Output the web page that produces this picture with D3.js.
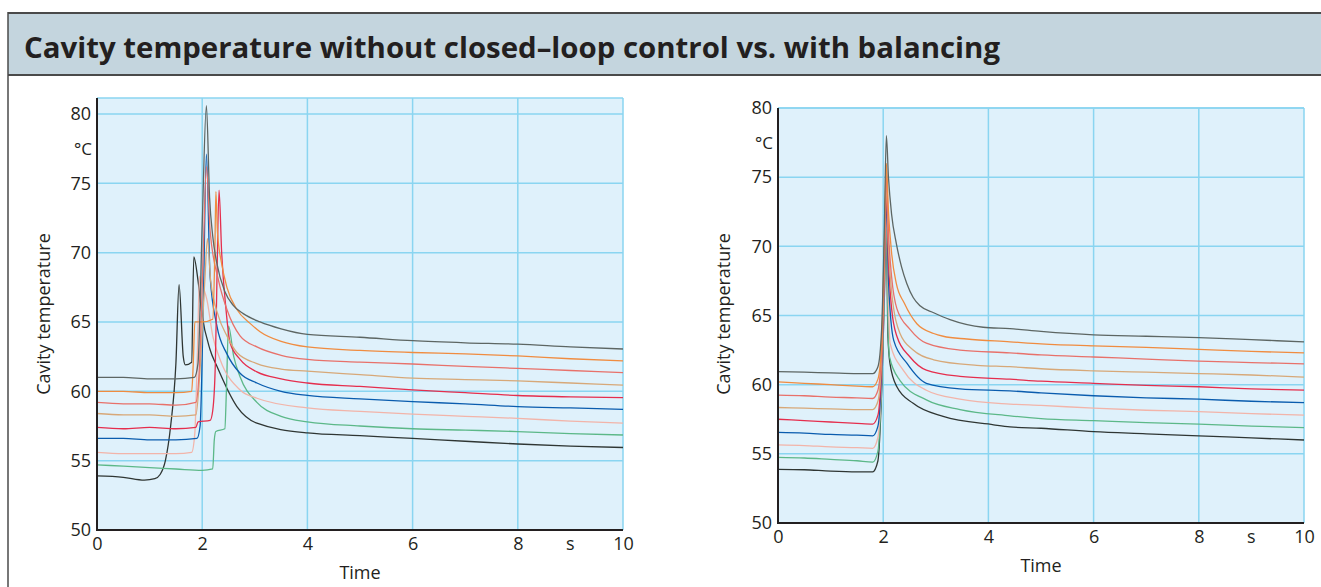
<!DOCTYPE html>
<html>
<head>
<meta charset="utf-8">
<script src="https://cdn.jsdelivr.net/npm/d3@7"></script>
<style>
  body { margin: 0; background: #fff; }
  svg text { font-family: "Open Sans", "Noto Sans", sans-serif; fill: #231f20; }
</style>
</head>
<body>
<svg id="chart" width="1321" height="587"></svg>
<script>
// Data: [time s, temperature °C]
var titleText = "Cavity temperature without closed\u2013loop control vs. with balancing";
var seriesColors = ["#2f3633", "#5cb888", "#f2b4a9", "#0a5cae", "#e52e4d", "#d7a878", "#e8716a", "#f08c40", "#5d6663"];
var xTicks = [0, 2, 4, 6, 8, 10];
var yTicks = [50, 55, 60, 65, 70, 75, 80];

// without closed-loop control
var leftBlack = [[0,53.9],[0.5,53.8],[0.9,53.6],[1.1,53.7],[1.2,54.0],[1.3,55.0],[1.4,57.5],[1.5,62],[1.56,67.7],[1.64,62.5],[1.68,61.9],[1.8,62.1],[1.84,69.7],[1.92,68],[1.99,65.7],[2.15,63.0],[2.28,61.8],[2.66,58.9],[3.04,57.7],[4,57.0],[5,56.8],[6,56.6],[7,56.4],[8,56.2],[9,56.05],[10,55.95]];
var leftGreen = [[0,54.7],[0.5,54.6],[1,54.5],[1.5,54.4],[2.0,54.3],[2.2,54.4],[2.23,56.5],[2.26,57.1],[2.43,57.3],[2.46,60],[2.5,64.7],[2.6,62.5],[2.72,61.05],[3.04,59.2],[3.5,58.2],[4,57.8],[5,57.5],[6,57.3],[7,57.2],[8,57.1],[9,56.95],[10,56.85]];
var leftPink = [[0,55.6],[0.5,55.5],[1,55.5],[1.5,55.5],[1.8,55.6],[1.86,57],[1.91,63],[1.95,68.3],[2.02,67.5],[2.09,66.6],[2.2,64],[2.34,62.3],[2.72,60.1],[3.04,59.5],[4,58.8],[5,58.55],[6,58.35],[7,58.2],[8,58.05],[9,57.85],[10,57.7]];
var leftBlue = [[0,56.6],[0.5,56.6],[1,56.5],[1.5,56.5],[1.9,56.6],[1.96,57.5],[2.02,66],[2.08,77.1],[2.15,68.3],[2.28,64.7],[2.47,62.7],[2.72,61.3],[3.04,60.6],[3.5,60.0],[4,59.7],[5,59.45],[6,59.25],[7,59.1],[8,58.9],[9,58.8],[10,58.7]];
var leftCrimson = [[0,57.4],[0.5,57.3],[1,57.4],[1.5,57.3],[1.88,57.4],[1.92,57.8],[2.15,57.9],[2.2,58.6],[2.25,62],[2.28,68],[2.32,74.5],[2.37,70],[2.45,66],[2.53,63.5],[2.72,62.3],[3.04,61.4],[3.5,60.9],[4,60.6],[5,60.35],[6,60.1],[7,59.9],[8,59.7],[9,59.6],[10,59.55]];
var leftTan = [[0,58.4],[0.5,58.3],[1,58.3],[1.5,58.2],[1.88,58.3],[1.95,61],[2.05,68],[2.1,71],[2.16,68],[2.31,65.4],[2.47,64.0],[2.66,62.8],[3.04,62.0],[3.5,61.6],[4,61.45],[5,61.2],[6,60.95],[7,60.85],[8,60.75],[9,60.6],[10,60.45]];
var leftSalmon = [[0,59.2],[0.5,59.1],[1,59.1],[1.5,59.0],[1.88,59.2],[1.95,62],[2.02,70],[2.08,76.2],[2.15,71.6],[2.31,68.0],[2.47,65.9],[2.72,64.0],[3.04,63.2],[3.5,62.6],[4,62.3],[5,62.1],[6,61.97],[7,61.8],[8,61.65],[9,61.5],[10,61.35]];
var leftOrange = [[0,60.0],[0.5,60.0],[1,59.9],[1.5,59.9],[1.8,60.0],[1.83,62],[1.86,65.0],[2.0,65.0],[2.2,65.2],[2.24,70],[2.26,74.4],[2.29,71.5],[2.37,69.2],[2.47,67.5],[2.66,65.9],[2.91,64.9],[3.1,64.3],[3.5,63.6],[4,63.2],[5,62.95],[6,62.8],[7,62.7],[8,62.55],[9,62.35],[10,62.2]];
var leftGray = [[0,61.0],[0.5,61.0],[1,60.9],[1.5,60.9],[1.85,61.0],[1.92,62],[2.0,72],[2.08,80.6],[2.14,74],[2.2,71.2],[2.28,69.2],[2.43,67.2],[2.59,66.2],[2.78,65.6],[3.1,65.0],[3.5,64.5],[4,64.1],[5,63.9],[6,63.65],[7,63.5],[8,63.4],[9,63.2],[10,63.05]];

// with balancing
var rightBlack = [[0,53.88],[0.5,53.85],[1,53.75],[1.5,53.7],[1.8,53.7],[1.9,54.5],[1.97,59.5],[2.02,66],[2.06,71.5],[2.09,63.5],[2.13,61.5],[2.26,59.85],[2.57,58.65],[3.14,57.7],[4.1,57.1],[4.41,56.95],[5,56.85],[6,56.6],[7,56.45],[8,56.3],[9,56.15],[10,56.0]];
var rightGreen = [[0,54.75],[0.5,54.7],[1,54.6],[1.5,54.5],[1.8,54.4],[1.9,55.2],[1.97,60],[2.02,66.5],[2.06,72],[2.09,64.5],[2.12,62.0],[2.32,60.3],[2.82,58.9],[3.46,58.2],[4.41,57.75],[5,57.55],[6,57.4],[7,57.25],[8,57.15],[9,57.0],[10,56.9]];
var rightPink = [[0,55.65],[0.5,55.6],[1,55.5],[1.5,55.45],[1.8,55.4],[1.9,56.2],[1.97,60.5],[2.02,67],[2.06,72.6],[2.1,66],[2.13,63.0],[2.38,61.05],[2.82,59.6],[3.46,58.95],[4.41,58.6],[5,58.5],[6,58.3],[7,58.15],[8,58.05],[9,57.9],[10,57.8]];
var rightBlue = [[0,56.55],[0.5,56.5],[1,56.4],[1.5,56.35],[1.8,56.3],[1.9,57.0],[1.97,61],[2.02,67.5],[2.06,73.3],[2.1,67.5],[2.2,63.2],[2.45,61.55],[2.82,60.1],[3.46,59.7],[4.41,59.55],[5,59.4],[6,59.2],[7,59.05],[8,58.95],[9,58.8],[10,58.7]];
var rightCrimson = [[0,57.5],[0.5,57.4],[1,57.3],[1.5,57.2],[1.8,57.15],[1.9,57.8],[1.97,61.5],[2.02,68],[2.06,74.0],[2.1,69],[2.16,65.5],[2.26,63.5],[2.51,62.0],[2.82,61.05],[3.46,60.6],[4.41,60.4],[5,60.25],[6,60.1],[7,59.95],[8,59.85],[9,59.7],[10,59.6]];
var rightTan = [[0,58.35],[0.5,58.3],[1,58.25],[1.5,58.2],[1.8,58.2],[1.9,58.8],[1.97,62],[2.02,68.5],[2.06,74.6],[2.1,70],[2.16,66.7],[2.32,63.7],[2.57,62.5],[2.96,61.8],[3.78,61.4],[4.41,61.3],[5,61.15],[6,61.0],[7,60.9],[8,60.8],[9,60.7],[10,60.55]];
var rightSalmon = [[0,59.25],[0.5,59.2],[1,59.1],[1.5,59.05],[1.8,59.0],[1.9,59.6],[1.97,62.5],[2.02,69],[2.06,75.2],[2.1,71],[2.16,67.8],[2.26,65.5],[2.51,64.0],[2.82,63.0],[3.46,62.5],[4.41,62.3],[5,62.15],[6,62.0],[7,61.85],[8,61.7],[9,61.6],[10,61.5]];
var rightOrange = [[0,60.2],[0.5,60.1],[1,60.0],[1.5,59.9],[1.8,59.85],[1.9,60.4],[1.97,63],[2.02,70],[2.06,76.0],[2.1,72.5],[2.16,69.5],[2.25,67.3],[2.4,65.9],[2.64,64.4],[2.96,63.7],[3.14,63.5],[3.59,63.3],[4.41,63.1],[5,62.95],[6,62.8],[7,62.7],[8,62.55],[9,62.4],[10,62.3]];
var rightGray = [[0,60.95],[0.5,60.9],[1,60.85],[1.5,60.8],[1.8,60.8],[1.9,61.3],[1.97,64],[2.02,71],[2.06,78.0],[2.1,75],[2.16,72.3],[2.25,70.2],[2.35,68.5],[2.45,67.3],[2.57,66.3],[2.7,65.7],[2.96,65.2],[3.27,64.7],[3.9,64.15],[4.41,64.05],[5,63.85],[6,63.6],[7,63.5],[8,63.4],[9,63.25],[10,63.1]];

var leftSeries = [leftBlack, leftGreen, leftPink, leftBlue, leftCrimson, leftTan, leftSalmon, leftOrange, leftGray];
var rightSeries = [rightBlack, rightGreen, rightPink, rightBlue, rightCrimson, rightTan, rightSalmon, rightOrange, rightGray];

var svg = d3.select("#chart");

// title box
svg.append("rect")
    .attr("x", 8).attr("y", 13)
    .attr("width", 1330).attr("height", 62)
    .attr("fill", "#c4d5de");
svg.append("line").attr("x1", 8).attr("x2", 1321).attr("y1", 13).attr("y2", 13)
    .attr("stroke", "#4a4a4a").attr("stroke-width", 2);
svg.append("line").attr("x1", 8).attr("x2", 1321).attr("y1", 75).attr("y2", 75)
    .attr("stroke", "#4a4a4a").attr("stroke-width", 2);
svg.append("line").attr("x1", 8).attr("x2", 8).attr("y1", 12).attr("y2", 587)
    .attr("stroke", "#4a4a4a").attr("stroke-width", 1.5);

svg.append("text")
    .attr("x", 24).attr("y", 58)
    .attr("font-size", 29).attr("font-weight", "bold")
    .attr("textLength", 976).attr("lengthAdjust", "spacingAndGlyphs")
    .text(titleText);

function drawPanel(series, left, right, top, bottom, yMax, cx, cy) {
    var x = d3.scaleLinear().domain([0, 10]).range([left, right]);
    var y = d3.scaleLinear().domain([50, yMax]).range([bottom, top]);
    var g = svg.append("g");

    g.append("rect")
        .attr("x", left).attr("y", top)
        .attr("width", right - left).attr("height", bottom - top)
        .attr("fill", "#dff1fb");

    // grid
    g.selectAll(".hg").data(yTicks.filter(function(d) { return d > 50; }))
        .enter().append("line")
        .attr("x1", left).attr("x2", right)
        .attr("y1", function(d) { return y(d); }).attr("y2", function(d) { return y(d); })
        .attr("stroke", "#8ad5f1").attr("stroke-width", 1.5);
    g.selectAll(".vg").data(xTicks.filter(function(d) { return d > 0; }))
        .enter().append("line")
        .attr("x1", function(d) { return x(d); }).attr("x2", function(d) { return x(d); })
        .attr("y1", top).attr("y2", bottom)
        .attr("stroke", "#8ad5f1").attr("stroke-width", 1.5);
    g.append("line")
        .attr("x1", left).attr("x2", right).attr("y1", top).attr("y2", top)
        .attr("stroke", "#8ad5f1").attr("stroke-width", 1.5);

    var line = d3.line()
        .x(function(d) { return x(d[0]); })
        .y(function(d) { return y(d[1]); })
        .curve(d3.curveMonotoneX);

    g.selectAll(".series").data(series)
        .enter().append("path")
        .attr("d", line)
        .attr("fill", "none")
        .attr("stroke", function(d, i) { return seriesColors[i]; })
        .attr("stroke-width", 1.3)
        .attr("stroke-linejoin", "round");

    // axes
    var yAxis = d3.axisLeft(y).tickValues(yTicks).tickSize(0).tickPadding(6);
    var ya = g.append("g").attr("transform", "translate(" + left + ",0)").call(yAxis);
    ya.select(".domain").remove();
    ya.selectAll("text").attr("font-size", 18).attr("font-family", "Open Sans").attr("fill", "#231f20");

    var xAxis = d3.axisBottom(x).tickValues(xTicks).tickSize(0).tickPadding(7);
    var xa = g.append("g").attr("transform", "translate(0," + bottom + ")").call(xAxis);
    xa.select(".domain").remove();
    xa.selectAll("text").attr("font-size", 18).attr("font-family", "Open Sans").attr("fill", "#231f20");

    g.append("line").attr("x1", left).attr("x2", left).attr("y1", top).attr("y2", bottom + 1)
        .attr("stroke", "#231f20").attr("stroke-width", 2);
    g.append("line").attr("x1", left - 1).attr("x2", right).attr("y1", bottom).attr("y2", bottom)
        .attr("stroke", "#231f20").attr("stroke-width", 2);

    // units and titles
    g.append("text").attr("x", left - 5).attr("y", y(77.5)).attr("dy", "0.35em")
        .attr("text-anchor", "end").attr("font-size", 17).text("\u00b0C");
    g.append("text").attr("x", x(9)).attr("y", bottom + 7).attr("dy", "0.71em")
        .attr("text-anchor", "middle").attr("font-size", 18).text("s");
    g.append("text").attr("x", x(5)).attr("y", bottom + 49)
        .attr("text-anchor", "middle").attr("font-size", 18).text("Time");
    g.append("text")
        .attr("transform", "translate(" + cx + "," + cy + ") rotate(-90)")
        .attr("text-anchor", "middle").attr("font-size", 18).text("Cavity temperature");
}

drawPanel(leftSeries, 97, 623, 98, 530, 81.15, 50, 314);
drawPanel(rightSeries, 778, 1304, 108, 523, 80, 730, 314);
</script>
</body>
</html>
